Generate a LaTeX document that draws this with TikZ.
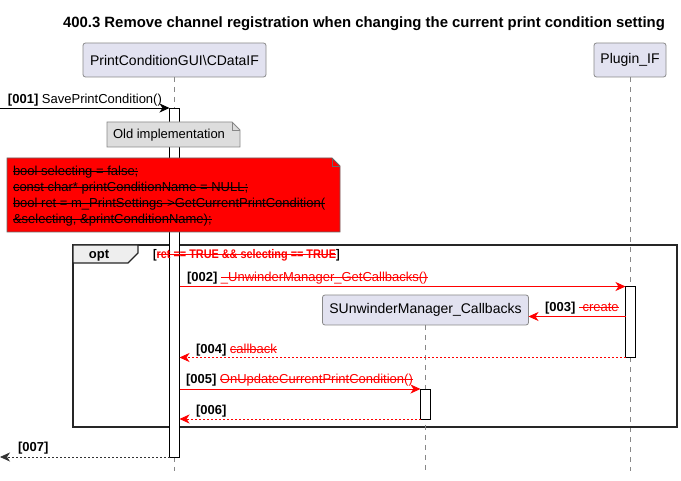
\documentclass[tikz,border=0pt]{standalone}
\usepackage{fontspec}
\setmainfont{Liberation Sans}
\usetikzlibrary{arrows.meta}
\definecolor{partfill}{HTML}{E2E2F0}
\definecolor{partdraw}{HTML}{888888}
\definecolor{notefill}{HTML}{DDDDDD}
\definecolor{lifeg}{HTML}{888888}
\definecolor{tabfill}{HTML}{EEEEEE}
\definecolor{pred}{HTML}{FF0000}
\newlength\stkw
\newcommand{\stk}[1]{\settowidth{\stkw}{#1}\rlap{#1}\rule[0.3em]{\stkw}{0.9pt}}
\newcommand{\rstk}[1]{\textcolor{pred}{\stk{#1}}}
\begin{document}
\begin{tikzpicture}[x=1pt,y=-1pt,
  every node/.style={inner sep=0pt, outer sep=0pt},
  part/.style={draw=partdraw, fill=partfill, rounded corners=2.5pt, line width=0.8pt, font=\fontsize{14}{16}\selectfont},
  life/.style={draw=lifeg, dash pattern=on 5pt off 5pt, line width=0.8pt},
  act/.style={draw=black, fill=white, line width=0.8pt},
  tip/.style={-{Stealth[length=10pt,width=9pt,inset=3pt]}},
  msg/.style={tip, line width=0.8pt},
  rmsg/.style={tip, draw=pred, line width=0.8pt},
  rret/.style={tip, draw=pred, line width=0.8pt, dash pattern=on 2pt off 2pt},
  bret/.style={tip, draw=black!80, line width=0.8pt, dash pattern=on 2pt off 2pt},
  lbl/.style={anchor=base west, font=\fontsize{13}{15}\selectfont},
  notetxt/.style={anchor=base west, font=\fontsize{13}{15}\selectfont}
]
\useasboundingbox (0,0) rectangle (681,481);

% title
\node[font=\bfseries\fontsize{14.9}{17}\selectfont] (title) at (364,24)
  {400.3 Remove channel registration when changing the current print condition setting};

% participants
\node[part, minimum width=183pt, minimum height=34pt] (cdata) at (174.5,60) {PrintConditionGUI\textbackslash CDataIF};
\node[part, minimum width=72pt, minimum height=34pt] (plug) at (630,60) {Plugin\_IF};

% lifelines
\coordinate (cdataEnd) at (174.5,471);
\coordinate (plugEnd) at (630,471);
\draw[life] (cdata.south) -- (cdataEnd);
\draw[life] (plug.south) -- (plugEnd);

% opt frame
\draw[line width=1.5pt, draw=black!85] (73,245) rectangle (677,427);
\path[fill=tabfill, draw=black!85, line width=1.2pt] (73,245) -- (138,245) -- (138,253) -- (128,263) -- (73,263) -- cycle;
\node[font=\bfseries\fontsize{13}{15}\selectfont, anchor=base] (opt) at (99,259) {opt};

% activations
\node[act, minimum width=10pt, minimum height=349pt, anchor=north] (actA) at (174.5,108) {};
\node[act, minimum width=10pt, minimum height=71pt, anchor=north] (actP) at (630.5,286.5) {};

\node[lbl, font=\bfseries\fontsize{12.5}{14}\selectfont] (cond) at (153,259) {\scalebox{0.87}[1]{[\rstk{ret == TRUE \&\& selecting == TRUE}]}};

% created participant
\node[part, minimum width=206pt, minimum height=30pt] (sunw) at (425.5,310) {SUnwinderManager\_Callbacks};
\coordinate (sunwEnd) at (425.5,471);
\draw[life] (sunw.south) -- (sunwEnd);
\node[act, minimum width=10pt, minimum height=30pt, anchor=north] (actS) at (425.5,389) {};

% notes
\path[fill=notefill, draw=partdraw, line width=0.8pt] (107,122) -- (232,122) -- (240,130) -- (240,147) -- (107,147) -- cycle;
\draw[draw=partdraw, line width=0.8pt] (232,122) -- (232,130) -- (240,130);
\node[notetxt] (oldimpl) at (113,139) {Old implementation};

\path[fill=pred, draw=black!60, line width=0.8pt] (7,158) -- (332,158) -- (340,166) -- (340,232) -- (7,232) -- cycle;
\draw[draw=black!60, line width=0.8pt] (332,158) -- (332,166) -- (340,166);
\node[notetxt] (n1) at (13,176) {\stk{bool selecting = false;}};
\node[notetxt] (n2) at (13,192) {\stk{const char* printConditionName = NULL;}};
\node[notetxt] (n3) at (13,208) {\stk{bool ret = m\_PrintSettings->GetCurrentPrintCondition(}};
\node[notetxt] (n4) at (13,224) {\stk{\&selecting, \&printConditionName);}};

% messages
\coordinate (start1) at (0,108);
\draw[msg] (start1) -- (actA.west |- start1);
\node[lbl] (l1) at (8,104) {\textbf{[001]} SavePrintCondition()};

\draw[rmsg] (actA.east |- 0,286.5) -- (actP.west |- 0,286.5);
\node[lbl] (l2) at (187,282) {\textbf{[002]} \rstk{\_UnwinderManager\_GetCallbacks()}};

\draw[rmsg] (actP.west |- 0,316.5) -- (sunw.east |- 0,316.5);
\node[lbl] (l3) at (545,312) {\textbf{[003]} \rstk{\ create}};

\draw[rret] (actP.west |- 0,357.5) -- (actA.east |- 0,357.5);
\node[lbl] (l4) at (196,354) {\textbf{[004]} \rstk{callback}};

\draw[rmsg] (actA.east |- 0,389) -- (actS.west |- 0,389);
\node[lbl] (l5) at (186,384) {\textbf{[005]} \rstk{OnUpdateCurrentPrintCondition()}};

\draw[rret] (actS.west |- 0,419) -- (actA.east |- 0,419);
\node[lbl] (l6) at (196,415) {\textbf{[006]}};

\coordinate (end7) at (0,457);
\draw[bret] (actA.west |- end7) -- (end7);
\node[lbl] (l7) at (18,452) {\textbf{[007]}};
\end{tikzpicture}
\end{document}
